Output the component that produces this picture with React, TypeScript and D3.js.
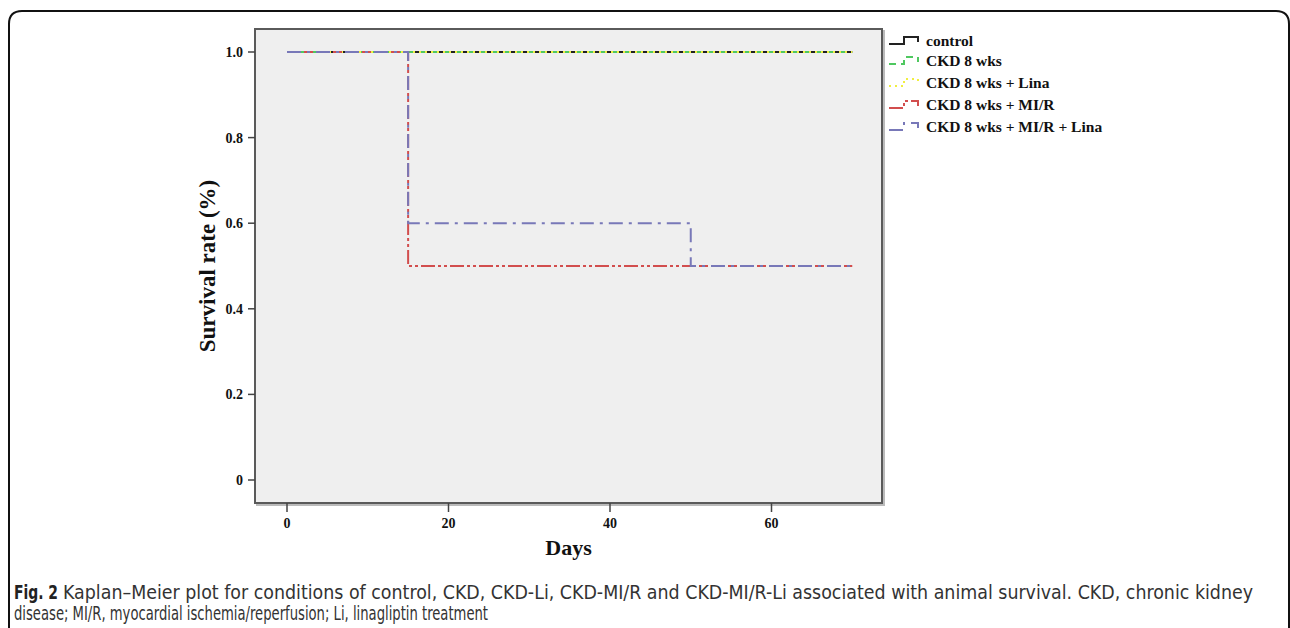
import React from "react";
import * as d3 from "d3";

// Kaplan-Meier step data (days, survival)
const controlDays = [0, 70];
const controlSurv = [1, 1];
const ckdDays = [0, 70];
const ckdSurv = [1, 1];
const ckdLinaDays = [0, 70];
const ckdLinaSurv = [1, 1];
const mirDays = [0, 15, 70];
const mirSurv = [1, 0.5, 0.5];
const mirLinaDays = [0, 15, 50, 70];
const mirLinaSurv = [1, 0.6, 0.5, 0.5];

const xTicks = [0, 20, 40, 60];
const yTicks = [0, 0.2, 0.4, 0.6, 0.8, 1.0];

const seriesNames = ["control", "CKD 8 wks", "CKD 8 wks + Lina", "CKD 8 wks + MI/R", "CKD 8 wks + MI/R + Lina"];

const captionLabel = "Fig. 2";
const captionLine1 = "Kaplan\u2013Meier plot for conditions of control, CKD, CKD-Li, CKD-MI/R and CKD-MI/R-Li associated with animal survival. CKD, chronic kidney";
const captionLine2 = "disease; MI/R, myocardial ischemia/reperfusion; Li, linagliptin treatment";

const series = [
  { name: seriesNames[0], days: controlDays, surv: controlSurv, color: "#222222", dash: "none" },
  { name: seriesNames[1], days: ckdDays, surv: ckdSurv, color: "#4fc860", dash: "7,5" },
  { name: seriesNames[2], days: ckdLinaDays, surv: ckdLinaSurv, color: "#f0ee40", dash: "2,4" },
  { name: seriesNames[3], days: mirDays, surv: mirSurv, color: "#d24e4e", dash: "14,3,3,3,3,3" },
  { name: seriesNames[4], days: mirLinaDays, surv: mirLinaSurv, color: "#7878b8", dash: "14,6,3,6" },
];

export default function App() {
  const W = 1290;
  const H = 628;
  const frame = { left: 255, right: 882, top: 29, bottom: 503 };

  const x = d3.scaleLinear().domain([0, 60]).range([287, 287 + 3 * 161.5]);
  const y = d3.scaleLinear().domain([0, 1]).range([480, 52]);

  const line = d3.line<[number, number]>()
    .x(d => x(d[0]))
    .y(d => y(d[1]))
    .curve(d3.curveStepAfter);

  const serif = "'Liberation Serif', 'Times New Roman', serif";
  const narrow = "'Liberation Sans Narrow', 'DejaVu Sans Condensed', 'Open Sans', sans-serif";

  const legendX = 889;
  const legendRows = [41, 61, 83, 105, 127];

  return (
    <svg width={W} height={H} style={{ position: "absolute", left: 0, top: 0, background: "#fff" }}>
      {/* outer figure box, open at the bottom */}
      <path
        d={`M9,${H + 5} V24 Q9,11 22,11 H1276 Q1289,11 1289,24 V${H + 5}`}
        fill="none"
        stroke="#111"
        strokeWidth={2}
      />

      {/* plot area */}
      <rect x={frame.left + 2} y={frame.top + 2} width={frame.right - frame.left} height={frame.bottom - frame.top} fill="none" stroke="#bbb" strokeWidth={2} />
      <rect x={frame.left} y={frame.top} width={frame.right - frame.left} height={frame.bottom - frame.top} fill="#efefef" stroke="#5a5a5a" strokeWidth={2} />

      {/* y ticks */}
      {yTicks.map(t => (
        <g key={"y" + t}>
          <line x1={frame.left - 7} x2={frame.left} y1={y(t)} y2={y(t)} stroke="#444" strokeWidth={1.5} />
          <text x={frame.left - 12} y={y(t)} dy="0.35em" textAnchor="end" fontFamily={serif} fontWeight="bold" fontSize={14} fill="#111">
            {t === 0 ? "0" : t.toFixed(1)}
          </text>
        </g>
      ))}

      {/* x ticks */}
      {xTicks.map(t => (
        <g key={"x" + t}>
          <line x1={x(t)} x2={x(t)} y1={frame.bottom} y2={frame.bottom + 9} stroke="#444" strokeWidth={1.5} />
          <text x={x(t)} y={frame.bottom + 20} dy="0.35em" textAnchor="middle" fontFamily={serif} fontWeight="bold" fontSize={14} fill="#111">
            {t}
          </text>
        </g>
      ))}

      {/* axis titles */}
      <text
        transform={`translate(215,${(frame.top + frame.bottom) / 2}) rotate(-90)`}
        textAnchor="middle"
        fontFamily={serif}
        fontWeight="bold"
        fontSize={23}
        fill="#111"
      >
        Survival rate (%)
      </text>
      <text x={(frame.left + frame.right) / 2} y={555} textAnchor="middle" fontFamily={serif} fontWeight="bold" fontSize={22} fill="#111">
        Days
      </text>

      {/* survival curves */}
      {series.map(s => (
        <path
          key={s.name}
          d={line(s.days.map((d, i) => [d, s.surv[i]] as [number, number])) || ""}
          fill="none"
          stroke={s.color}
          strokeWidth={2}
          strokeDasharray={s.dash}
        />
      ))}

      {/* legend */}
      {series.map((s, i) => {
        const ly = legendRows[i];
        return (
          <g key={"lg" + s.name}>
            <path
              d={`M${legendX},${ly + 3} H${legendX + 15} V${ly - 4} H${legendX + 29} V${ly + 1}`}
              fill="none"
              stroke={s.color}
              strokeWidth={2}
              strokeDasharray={s.dash === "none" ? undefined : s.dash}
            />
            <text x={legendX + 37} y={ly} dy="0.35em" fontFamily={serif} fontWeight="bold" fontSize={15.5} fill="#111">
              {s.name}
            </text>
          </g>
        );
      })}

      {/* caption */}
      <text x={14} y={599} fontFamily={narrow} fontWeight="bold" fontSize={19} fill="#222" textLength={44} lengthAdjust="spacingAndGlyphs">
        {captionLabel}
      </text>
      <text x={63} y={599} fontFamily={narrow} fontSize={19} fill="#333" textLength={1190} lengthAdjust="spacingAndGlyphs">
        {captionLine1}
      </text>
      <text x={14} y={620} fontFamily={narrow} fontSize={19} fill="#333" textLength={474} lengthAdjust="spacingAndGlyphs">
        {captionLine2}
      </text>
    </svg>
  );
}
